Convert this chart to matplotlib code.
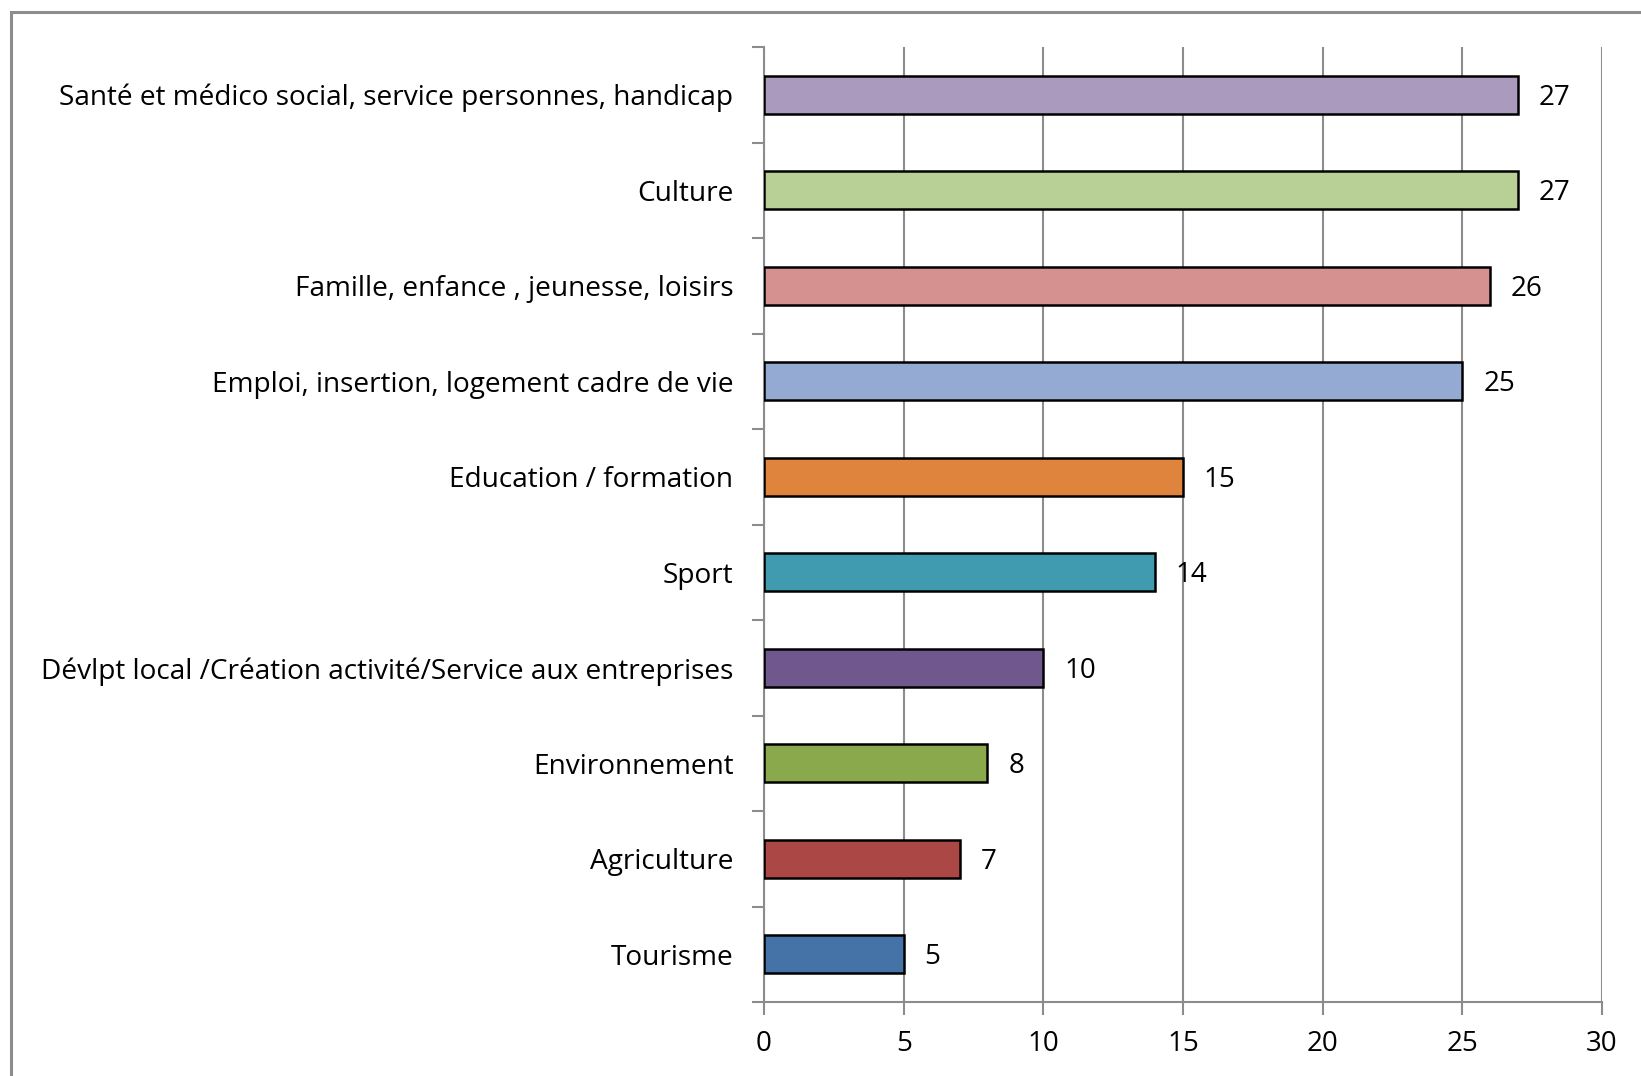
import matplotlib
matplotlib.use("Agg")
import matplotlib.pyplot as plt
from matplotlib.patches import Rectangle

categories = [
    "Santé et médico social, service personnes, handicap",
    "Culture",
    "Famille, enfance , jeunesse, loisirs",
    "Emploi, insertion, logement cadre de vie",
    "Education / formation",
    "Sport",
    "Dévlpt local /Création activité/Service aux entreprises",
    "Environnement",
    "Agriculture",
    "Tourisme",
]
values = [27, 27, 26, 25, 15, 14, 10, 8, 7, 5]
colors = ["#AA9BBE", "#B8CF95", "#D59190", "#95AAD3", "#DF843D",
          "#409BB0", "#70588F", "#8AA84C", "#AB4745", "#4572A7"]
xticks = [0, 5, 10, 15, 20, 25, 30]

plt.rcParams['font.family'] = ['Open Sans', 'DejaVu Sans']

fig = plt.figure(figsize=(16.41, 10.76), dpi=100)
# outer chart frame
fig.patches.append(Rectangle((10.5/1641, -0.1), 1.2, 1 - 11.5/1076 + 0.1,
                             transform=fig.transFigure, fill=False,
                             edgecolor="#8C8C8C", linewidth=2.2))

ax = fig.add_axes([764/1641, 1 - 1002/1076, (1602-764)/1641, (1002-47)/1076])
n = len(categories)
ypos = list(range(n))[::-1]
ax.barh(ypos, values, height=0.4, color=colors, edgecolor="black", linewidth=1.8, zorder=3)
for y, v in zip(ypos, values):
    ax.annotate(str(v), (v, y), xytext=(15, -2), textcoords="offset points",
                va="center", ha="left", fontsize=20, color="black")

ax.set_xlim(0, 30)
ax.set_ylim(-0.5, n - 0.5)
ax.set_xticks(xticks)
ax.set_xticklabels([str(t) for t in xticks], fontsize=20)
ax.set_yticks(ypos)
ax.set_yticklabels(categories, fontsize=20.2)
ax.tick_params(axis="y", length=0, pad=22)
ax.tick_params(axis="x", length=9, width=1.5, color="#8C8C8C", pad=11)
# category boundary ticks
ax.set_yticks([i - 0.5 for i in range(n + 1)], minor=True)
ax.tick_params(axis="y", which="minor", length=9, width=1.5, color="#8C8C8C")
ax.grid(axis="x", color="#8C8C8C", linewidth=1.5, zorder=0)
for s in ["top", "right"]:
    ax.spines[s].set_visible(False)
for s in ["left", "bottom"]:
    ax.spines[s].set_color("#8C8C8C")
    ax.spines[s].set_linewidth(1.5)

fig.savefig("out.png", dpi=100)
